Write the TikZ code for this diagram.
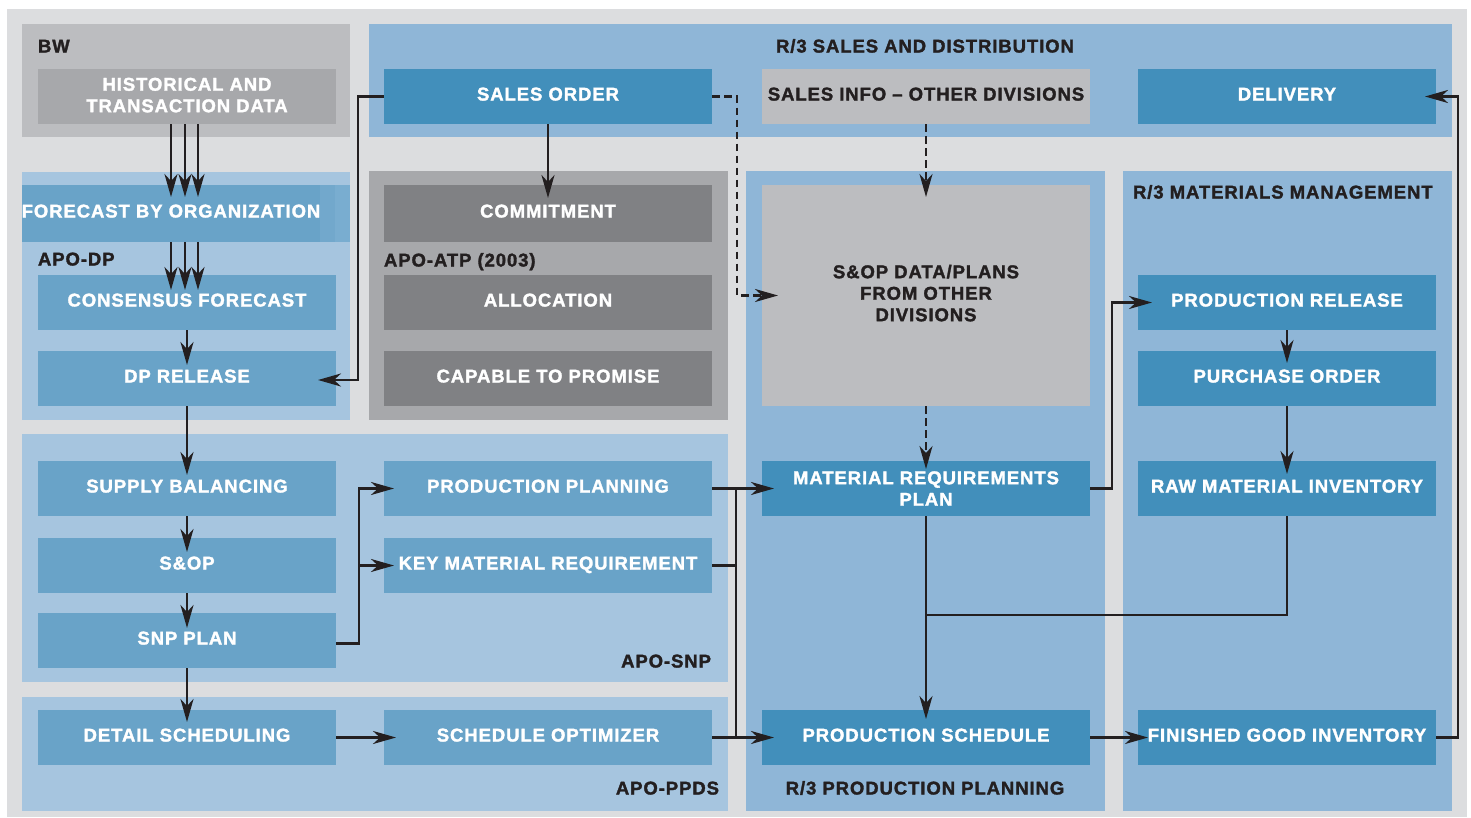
\documentclass[tikz,border=0pt]{standalone}
\usepackage{fontspec}
\setmainfont{Liberation Sans}
\newfontfamily\heavy{Liberation Sans Bold}[FakeBold=1.7,LetterSpace=5]
\usetikzlibrary{arrows.meta}

% a zero-width strut that lowers the last line of a block, lifting the text
\newcommand\liftby[1]{\rule[-#1]{0pt}{#1}}

\definecolor{bgray}{HTML}{DCDDDF}
\definecolor{bwpanel}{HTML}{BCBDC0}
\definecolor{histbox}{HTML}{A7A8AB}
\definecolor{apopanel}{HTML}{A6C5DF}
\definecolor{apobox}{HTML}{69A3C8}
\definecolor{apoband2}{HTML}{72A8CC}
\definecolor{apoband3}{HTML}{79ADD0}
\definecolor{r3panel}{HTML}{8FB6D7}
\definecolor{r3box}{HTML}{428FBB}
\definecolor{atppanel}{HTML}{A7A8AB}
\definecolor{atpbox}{HTML}{808184}
\definecolor{infobox}{HTML}{BCBDC0}
\definecolor{ink}{HTML}{231F20}

\begin{document}
\begin{tikzpicture}[x=1pt,y=-1pt,
  >={Stealth[length=23pt,width=13pt,inset=7pt]},
  conn/.style={draw=ink,line width=2.4pt},
  dconn/.style={conn,dash pattern=on 7.5pt off 4.5pt},
  cell/.style={inner sep=0pt,outer sep=0pt,align=center,text=white,
    font=\heavy\fontsize{18.5}{21.5}\selectfont},
  blk/.style={cell,text height=13pt,text depth=5pt},
  apo/.style={fill=apobox},
  rthree/.style={fill=r3box},
  atp/.style={fill=atpbox},
  pale/.style={fill=infobox,text=ink},
  wide/.style={minimum width=328pt,minimum height=55pt},
  narrow/.style={minimum width=298pt,minimum height=55pt},
  lbl/.style={inner sep=0pt,outer sep=0pt,text=ink,text height=13pt,text depth=0pt,
    font=\heavy\fontsize{18.5}{21.5}\selectfont},
]
\useasboundingbox (0,0) rectangle (1471,817);

% panels
\fill[bgray] (7,9) rectangle (1467,817);
\fill[bwpanel] (22,24) rectangle (350,137);
\fill[r3panel] (369,24) rectangle (1452,137);
\fill[apopanel] (22,172) rectangle (350,419.5);
\fill[atppanel] (369,171) rectangle (728,419.5);
\fill[r3panel] (746,171) rectangle (1105,811);
\fill[r3panel] (1123,171) rectangle (1452,811);
\fill[apopanel] (22,434) rectangle (728,682);
\fill[apopanel] (22,697) rectangle (728,811);

% panel titles
\node[lbl,anchor=west] (bwlbl) at (38,46) {BW};
\node[lbl] (sdlbl) at (925,46) {R/3 SALES AND DISTRIBUTION};
\node[lbl,anchor=west] (dplbl) at (38,259) {APO-DP};
\node[lbl,anchor=west] (atplbl) at (384,260) {APO-ATP (2003)};
\node[lbl,anchor=west] (mmlbl) at (1133,192) {R/3 MATERIALS MANAGEMENT};
\node[lbl,anchor=east] (snplbl) at (711,661) {APO-SNP};
\node[lbl,anchor=east] (ppdslbl) at (719,788) {APO-PPDS};
\node[lbl] (pplbl) at (925,788) {R/3 PRODUCTION PLANNING};

% BW
\node[cell,narrow,fill=histbox] (hist) at (187,96.5) {HISTORICAL AND\\TRANSACTION DATA\liftby{3pt}};

% APO-DP
\node[blk,apo,minimum width=298pt,minimum height=57pt] (fbo) at (171,213.5) {FORECAST BY ORGANIZATION};
\fill[apoband2] (320,185) rectangle (335,242);
\fill[apoband3] (335,185) rectangle (350,242);
\node[blk,apo,narrow] (cons) at (187,302.5) {CONSENSUS FORECAST};
\node[blk,apo,narrow] (dprel) at (187,378.5) {DP RELEASE};

% R/3 sales and distribution
\node[blk,rthree,wide] (so) at (548,96.5) {SALES ORDER};
\node[blk,pale,wide] (sinfo) at (926,96.5) {SALES INFO \textendash{} OTHER DIVISIONS};
\node[blk,rthree,narrow] (deliv) at (1287,96.5) {DELIVERY};

% APO-ATP
\node[blk,atp,minimum width=328pt,minimum height=57pt] (commit) at (548,213.5) {COMMITMENT};
\node[blk,atp,wide] (alloc) at (548,302.5) {ALLOCATION};
\node[blk,atp,wide] (ctp) at (548,378.5) {CAPABLE TO PROMISE};

% R/3 production planning
\node[cell,pale,minimum width=328pt,minimum height=221pt] (sopd) at (926,295.5) {S\&OP DATA/PLANS\\FROM OTHER\\DIVISIONS\liftby{5pt}};
\node[cell,rthree,wide] (mrp) at (926,488.5) {MATERIAL REQUIREMENTS\\PLAN};
\node[blk,rthree,wide] (psched) at (926,737.5) {PRODUCTION SCHEDULE};

% R/3 materials management
\node[blk,rthree,narrow] (prel) at (1287,302.5) {PRODUCTION RELEASE};
\node[blk,rthree,narrow] (po) at (1287,378.5) {PURCHASE ORDER};
\node[blk,rthree,narrow] (rmi) at (1287,488.5) {RAW MATERIAL INVENTORY};
\node[blk,rthree,narrow] (fgi) at (1287,737.5) {FINISHED GOOD INVENTORY};

% APO-SNP
\node[blk,apo,narrow] (sb) at (187,488.5) {SUPPLY BALANCING};
\node[blk,apo,narrow] (sop) at (187,565.5) {S\&OP};
\node[blk,apo,narrow] (snp) at (187,640.5) {SNP PLAN};
\node[blk,apo,wide] (pp) at (548,488.5) {PRODUCTION PLANNING};
\node[blk,apo,wide] (kmr) at (548,565.5) {KEY MATERIAL REQUIREMENT};

% APO-PPDS
\node[blk,apo,narrow] (ds) at (187,737.5) {DETAIL SCHEDULING};
\node[blk,apo,wide] (sopt) at (548,737.5) {SCHEDULE OPTIMIZER};

% connectors
\foreach \dx in {171,185,198} {
  \draw[conn,->] (\dx,0 |- hist.south) -- ([yshift=-12pt]\dx,0 |- fbo.north);
  \draw[conn,->] (\dx,0 |- fbo.south) -- ([yshift=-15pt]\dx,0 |- cons.north);
}
\draw[conn,->] (cons.south) -- ([yshift=-14pt]dprel.north);
\draw[conn,->] (so.west) -- ++(-26,0) |- ([xshift=-18pt,yshift=-1.5pt]dprel.east);
\draw[conn,->] (so.south) -- ([yshift=-13pt]commit.north);
\draw[dconn,->] (so.east) -- ++(25,0) |- ([xshift=16pt]sopd.west);
\draw[dconn,->] (sinfo.south) -- ([yshift=-12pt]sopd.north);
\draw[dconn,->] (sopd.south) -- ([yshift=-8pt]mrp.north);

\draw[conn,->] (dprel.south) -- ([yshift=-14pt]sb.north);
\draw[conn,->] (sb.south) -- ([yshift=-14pt]sop.north);
\draw[conn,->] (sop.south) -- ([yshift=-15pt]snp.north);
\draw[conn,->] (snp.south) -- ([yshift=-12pt]ds.north);

\draw[conn,->] ([yshift=-3pt]snp.east) -- ++(23,0) |- ([xshift=10pt]pp.west);
\draw[conn,->] ([xshift=-25pt]kmr.west) -- ([xshift=10pt]kmr.west);
\draw[conn,->] (ds.east) -- ([xshift=12pt]sopt.west);

\draw[conn,->] (pp.east) -- ([xshift=12pt]mrp.west);
\draw[conn] (kmr.east) -- ++(24,0);
\draw[conn] ([xshift=24pt]pp.east) -- ([xshift=24pt]sopt.east);
\draw[conn,->] (sopt.east) -- ([xshift=12pt]psched.west);

\draw[conn,->] (mrp.south) -- ([yshift=-9pt]psched.north);
\draw[conn,->] (mrp.east) -- ++(22,0) |- ([xshift=14pt]prel.west);
\draw[conn,->] (prel.south) -- ([yshift=-12pt]po.north);
\draw[conn,->] (po.south) -- ([yshift=-13pt]rmi.north);
\draw[conn] (rmi.south) |- ([yshift=-99pt]mrp.south);
\draw[conn,->] (psched.east) -- ([xshift=10pt]fgi.west);
\draw[conn,->] (fgi.east) -- ++(22,0) |- ([xshift=-11pt]deliv.east);
\end{tikzpicture}
\end{document}
